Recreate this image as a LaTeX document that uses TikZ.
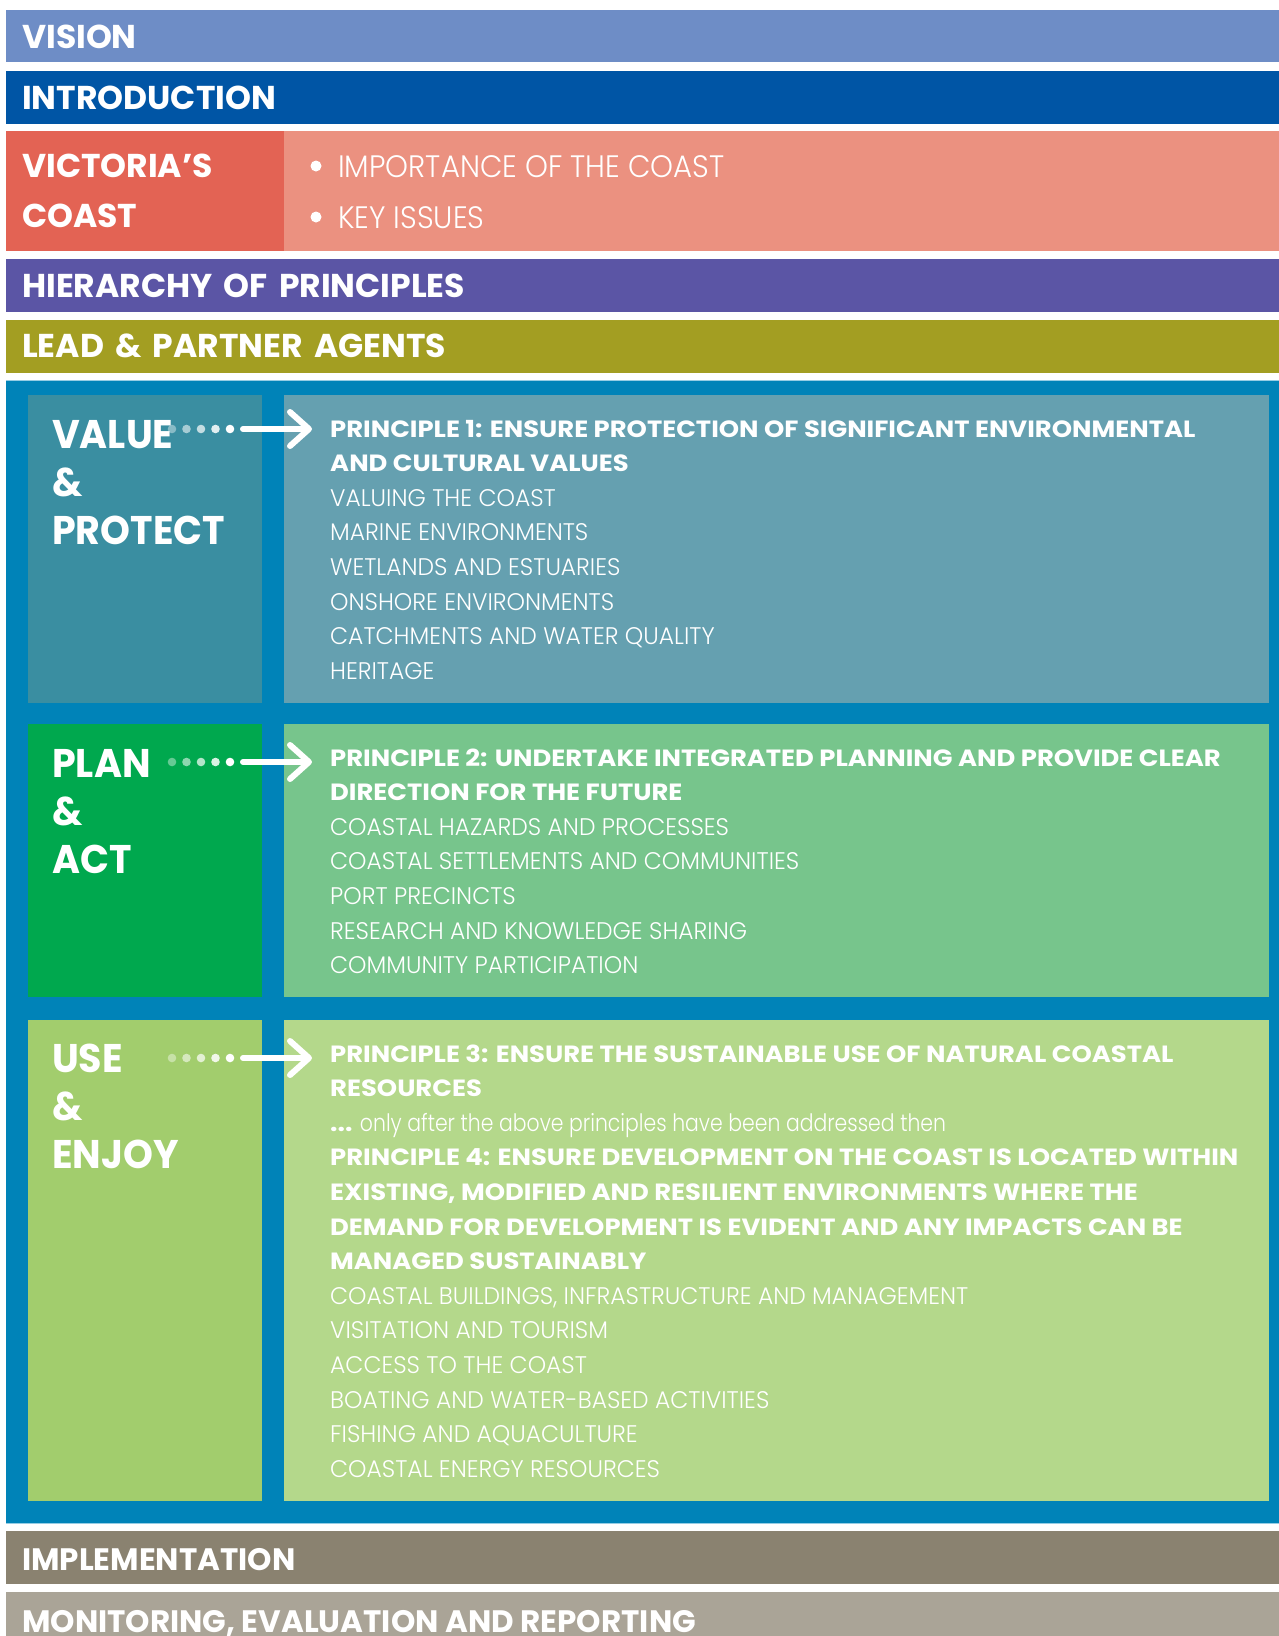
\documentclass[tikz,border=0pt]{standalone}
\usepackage{fontspec}
\setmainfont{Poppins}
\newfontfamily\fhead[WordSpace=1.6]{Poppins}
\newfontfamily\fpanel[FakeStretch=0.95]{Poppins}
\newfontfamily\fprin[FakeStretch=1.1]{Poppins}
\newfontfamily\fitem[FakeStretch=0.975]{Poppins Light}
\newfontfamily\flow[FakeStretch=0.85]{Poppins Light}
\newfontfamily\fbul[FakeStretch=0.94]{Poppins Light}
\newfontfamily\fbot[FakeStretch=1.0]{Poppins}
\usetikzlibrary{arrows.meta}
\definecolor{cVision}{RGB}{110,141,198}
\definecolor{cIntro}{RGB}{0,85,165}
\definecolor{cVicA}{RGB}{227,99,84}
\definecolor{cVicB}{RGB}{235,145,128}
\definecolor{cHier}{RGB}{91,85,165}
\definecolor{cLead}{RGB}{163,158,34}
\definecolor{cMain}{RGB}{0,131,184}
\definecolor{cMainEdge}{RGB}{150,205,228}
\definecolor{cValA}{RGB}{58,142,161}
\definecolor{cValB}{RGB}{101,160,176}
\definecolor{cPlanA}{RGB}{0,168,78}
\definecolor{cPlanB}{RGB}{119,197,140}
\definecolor{cUseA}{RGB}{162,205,109}
\definecolor{cUseB}{RGB}{180,216,139}
\definecolor{cImpl}{RGB}{138,130,112}
\definecolor{cMon}{RGB}{170,164,151}
\begin{document}
\begin{tikzpicture}[x=1pt,y=-1pt,
  headtxt/.style={anchor=base west,inner sep=0pt,text=white,font=\fhead\bfseries\fontsize{33}{33}\selectfont},
  bultxt/.style={anchor=base west,inner sep=0pt,text=white,font=\fbul\fontsize{31}{31}\selectfont},
  paneltxt/.style={anchor=base west,inner sep=0pt,text=white,font=\fpanel\bfseries\fontsize{40}{40}\selectfont},
  printxt/.style={anchor=base west,inner sep=0pt,text=white,font=\fprin\bfseries\fontsize{23.5}{23.5}\selectfont},
  itemtxt/.style={anchor=base west,inner sep=0pt,text=white,font=\fitem\fontsize{24}{24}\selectfont},
  lowtxt/.style={anchor=base west,inner sep=0pt,text=white,font=\flow\fontsize{24}{24}\selectfont},
  bottxt/.style={anchor=base west,inner sep=0pt,text=white,font=\fbot\bfseries\fontsize{31}{31}\selectfont},
  conn/.style={white,line width=6pt,line cap=round,-{Straight Barb[length=19pt,width=34pt,round]}}]
\useasboundingbox (0,0) rectangle (1279,1636);
\fill[white] (0,0) rectangle (1279,1636);
% top bars
\fill[cVision] (6,10) rectangle (1279,62);
\fill[cIntro] (6,71) rectangle (1279,124);
\fill[cVicA] (6,131) rectangle (284,251);
\fill[cVicB] (284,131) rectangle (1279,251);
\fill[cHier] (6,259) rectangle (1279,312);
\fill[cLead] (6,320) rectangle (1279,373);
% main block
\fill[cMainEdge] (6,380) rectangle (1279,1524);
\fill[cMain] (6,381) rectangle (1279,1523);
\fill[cValA] (28,395) rectangle (262,703);
\fill[cValB] (284,395) rectangle (1269,703);
\fill[cPlanA] (28,724) rectangle (262,997);
\fill[cPlanB] (284,724) rectangle (1269,997);
\fill[cUseA] (28,1020) rectangle (262,1501);
\fill[cUseB] (284,1020) rectangle (1269,1501);
% bottom bars
\fill[cImpl] (6,1531) rectangle (1279,1584);
\fill[cMon] (6,1592) rectangle (1279,1636);
% heading texts
\node[headtxt] (vision) at (22,48) {VISION};
\node[headtxt] (intro) at (22,109) {INTRODUCTION};
\node[headtxt] (vic1) at (22,177) {VICTORIA’S};
\node[headtxt] (vic2) at (22,227) {COAST};
\fill[white] (316,166) circle (5.5);
\fill[white] (316,217) circle (5.5);
\node[bultxt] (imp) at (338,177) {IMPORTANCE OF THE COAST};
\node[bultxt] (key) at (338,228) {KEY ISSUES};
\node[headtxt] (hier) at (22,297) {HIERARCHY OF PRINCIPLES};
\node[headtxt] (lead) at (22,357) {LEAD \& PARTNER AGENTS};
\node[bottxt] (impl) at (22,1570) {IMPLEMENTATION};
\node[bottxt] (mon) at (22,1632) {MONITORING, EVALUATION AND REPORTING};
% panel headings
\node[paneltxt] (val1) at (52,448) {VALUE};
\node[paneltxt] (val2) at (52,496) {\&};
\node[paneltxt] (val3) at (52,544) {PROTECT};
\node[paneltxt] (pla1) at (52,777) {PLAN};
\node[paneltxt] (pla2) at (52,825) {\&};
\node[paneltxt] (pla3) at (52,873) {ACT};
\node[paneltxt] (use1) at (52,1072) {USE};
\node[paneltxt] (use2) at (52,1120) {\&};
\node[paneltxt] (use3) at (52,1168) {ENJOY};
% dots and arrows
\foreach \yy in {429,762,1058}{
  \foreach \xx/\oo in {172/0.4,186.5/0.55,201/0.7,215.5/0.85,230/1}
    \fill[white,opacity=\oo] (\xx,\yy) circle (4.3);
}
\coordinate (a1s) at (243,429); \coordinate (a1e) at (312,429);
\coordinate (a2s) at (243,762); \coordinate (a2e) at (312,762);
\coordinate (a3s) at (243,1058); \coordinate (a3e) at (312,1058);
\draw[conn] (a1s) -- (a1e);
\draw[conn] (a2s) -- (a2e);
\draw[conn] (a3s) -- (a3e);
% principle 1
\node[printxt] (p1a) at (330,437) {PRINCIPLE 1: ENSURE PROTECTION OF SIGNIFICANT ENVIRONMENTAL};
\node[printxt] (p1b) at (330,471.6) {AND CULTURAL VALUES};
\foreach \t [count=\i] in {VALUING THE COAST,MARINE ENVIRONMENTS,WETLANDS AND ESTUARIES,ONSHORE ENVIRONMENTS,CATCHMENTS AND WATER QUALITY,HERITAGE}
  \node[itemtxt] (p1i\i) at (330,{471.6+\i*34.6}) {\t};
% principle 2
\node[printxt] (p2a) at (330,766) {PRINCIPLE 2: UNDERTAKE INTEGRATED PLANNING AND PROVIDE CLEAR};
\node[printxt] (p2b) at (330,800.6) {DIRECTION FOR THE FUTURE};
\foreach \t [count=\i] in {COASTAL HAZARDS AND PROCESSES,COASTAL SETTLEMENTS AND COMMUNITIES,PORT PRECINCTS,RESEARCH AND KNOWLEDGE SHARING,COMMUNITY PARTICIPATION}
  \node[itemtxt] (p2i\i) at (330,{800.6+\i*34.6}) {\t};
% principle 3 and 4
\node[printxt] (p3a) at (330,1062) {PRINCIPLE 3: ENSURE THE SUSTAINABLE USE OF NATURAL COASTAL};
\node[printxt] (p3b) at (330,1096.6) {RESOURCES};
\node[lowtxt] (p3c) at (330,1131.2) {{\fprin\bfseries...} only after the above principles have been addressed then};
\node[printxt] (p4a) at (330,1165.8) {PRINCIPLE 4: ENSURE DEVELOPMENT ON THE COAST IS LOCATED WITHIN};
\node[printxt] (p4b) at (330,1200.4) {EXISTING, MODIFIED AND RESILIENT ENVIRONMENTS WHERE THE};
\node[printxt] (p4c) at (330,1235) {DEMAND FOR DEVELOPMENT IS EVIDENT AND ANY IMPACTS CAN BE};
\node[printxt] (p4d) at (330,1269.6) {MANAGED SUSTAINABLY};
\foreach \t [count=\i] in {{COASTAL BUILDINGS, INFRASTRUCTURE AND MANAGEMENT},VISITATION AND TOURISM,ACCESS TO THE COAST,BOATING AND WATER-BASED ACTIVITIES,FISHING AND AQUACULTURE,COASTAL ENERGY RESOURCES}
  \node[itemtxt] (p4i\i) at (330,{1269.6+\i*34.6}) {\t};
\end{tikzpicture}
\end{document}
